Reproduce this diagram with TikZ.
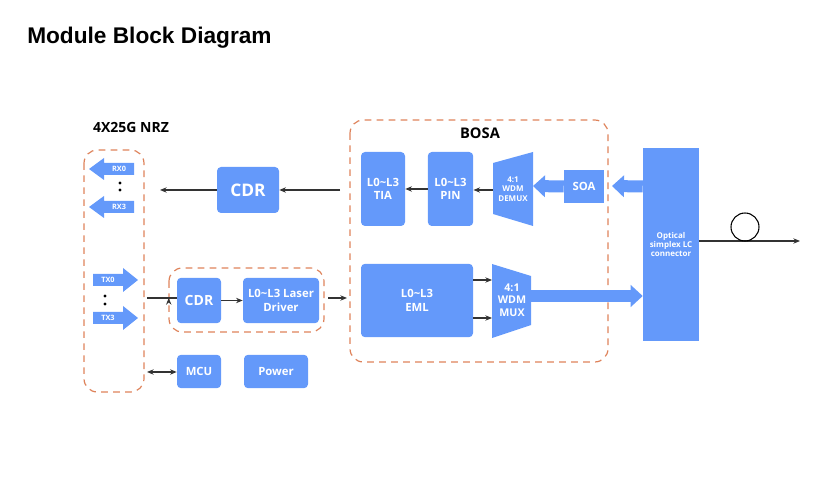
\documentclass[tikz,border=0pt]{standalone}
\usepackage{fontspec}
\setmainfont{Open Sans}
\newfontfamily\arialf{Liberation Sans}
\usetikzlibrary{arrows.meta}
\definecolor{blk}{RGB}{100,153,250}
\definecolor{dsh}{RGB}{222,130,90}
\begin{document}
\begin{tikzpicture}[x=0.75pt,y=-0.75pt,
  box/.style={fill=blk,rounded corners=3pt,text=white,font=\bfseries,align=center,inner sep=0pt},
  dbox/.style={draw=dsh,dashed,line width=0.9pt,dash pattern=on 5pt off 4pt,rounded corners=10pt},
  ar/.style={-{Stealth[length=5pt,width=4pt]},line width=0.8pt,black!80},
  fat/.style={blk,line width=9pt,-{Triangle[length=9pt,width=16pt]}},
  txt/.style={font=\bfseries,inner sep=0pt}]
\useasboundingbox (0,0) rectangle (826,481);
\node[anchor=west,font=\arialf\bfseries\fontsize{17}{20}\selectfont,inner sep=0pt] (title) at (27,38) {Module Block Diagram};
\node[txt,font=\bfseries\fontsize{10.5}{12}\selectfont] (nrz) at (131,128) {4X25G NRZ};
\draw[dbox] (84,150) rectangle (144,392);
\draw[dbox] (169,268) rectangle (324,332);
\draw[dbox] (350,120) rectangle (608,362);
\node[txt,font=\bfseries\fontsize{11}{13}\selectfont] (bosa) at (480,133) {BOSA};
% RX/TX arrows
\foreach \y/\t in {169/RX0,207/RX3}{
  \fill[blk] (89,\y) -- (104,\y-11) -- (104,\y-6) -- (134,\y-6) -- (134,\y+6) -- (104,\y+6) -- (104,\y+11) -- cycle;
  \node[text=white,font=\bfseries\fontsize{5.5}{6}\selectfont] (n\t) at (119,\y) {\t};}
\foreach \y/\t in {280/TX0,318/TX3}{
  \fill[blk] (138,\y) -- (123,\y-12) -- (123,\y-6) -- (93,\y-6) -- (93,\y+6) -- (123,\y+6) -- (123,\y+12) -- cycle;
  \node[text=white,font=\bfseries\fontsize{5.5}{6}\selectfont] (n\t) at (108,\y) {\t};}
\foreach \p in {(120,183),(120,190),(105,296),(105,304)} \fill \p circle (1.2pt);
% boxes
\node[box,minimum width=46.5pt,minimum height=34.5pt,font=\bfseries\fontsize{13}{15}\selectfont] (cdr1) at (248,190) {CDR};
\node[box,minimum width=33pt,minimum height=34pt,font=\bfseries\fontsize{10.5}{12}\selectfont] (cdr2) at (199,300.5) {CDR};
\node[box,minimum width=57pt,minimum height=34pt,font=\bfseries\fontsize{8.5}{10}\selectfont] (ld) at (281,300.5) {L0\textasciitilde L3 Laser\\Driver};
\node[box,minimum width=33pt,minimum height=25pt,font=\bfseries\fontsize{8.5}{10}\selectfont] (mcu) at (199,371.5) {MCU};
\node[box,minimum width=48pt,minimum height=25pt,font=\bfseries\fontsize{8.5}{10}\selectfont] (pwr) at (276,371.5) {Power};
\node[box,minimum width=33pt,minimum height=55.5pt,font=\bfseries\fontsize{8.5}{10}\selectfont] (tia) at (383,189) {L0\textasciitilde L3\\TIA};
\node[box,minimum width=34pt,minimum height=55.5pt,font=\bfseries\fontsize{8.5}{10}\selectfont] (pin) at (450.5,189) {L0\textasciitilde L3\\PIN};
\node[box,minimum width=84pt,minimum height=55pt,font=\bfseries\fontsize{8.5}{10}\selectfont] (eml) at (417,300.5) {L0\textasciitilde L3\\EML};
\node[box,rounded corners=0pt,minimum width=30pt,minimum height=25pt,font=\bfseries\fontsize{8.5}{10}\selectfont] (soa) at (584,186.5) {SOA};
\node[box,rounded corners=0pt,minimum width=42pt,minimum height=145pt,font=\bfseries\fontsize{6}{7}\selectfont] (conn) at (671,244.5) {Optical\\simplex LC\\connector};
% trapezoids
\fill[blk] (493,163) -- (533,152) -- (533,226) -- (493,214) -- cycle;
\node[text=white,font=\bfseries\fontsize{6}{7}\selectfont,align=center,inner sep=0pt] (demux) at (513,189) {4:1\\WDM\\DEMUX};
\fill[blk] (492,264) -- (531,276) -- (531,325) -- (492,338) -- cycle;
\node[text=white,font=\bfseries\fontsize{8}{9.5}\selectfont,align=center,inner sep=0pt] (mux) at (512,300) {4:1\\WDM\\MUX};
\coordinate (demuxL) at (493,190);
\coordinate (demuxR) at (533,186);
\coordinate (muxR) at (531,296);
\coordinate (muxL1) at (492,280);
\coordinate (muxL2) at (492,318);
% connectors
\coordinate (bosaL) at (340,190);
\coordinate (rxend) at (160,190);
\draw[ar] (bosaL) -- (cdr1.east);
\draw[ar] (cdr1.west) -- (rxend);
\coordinate (a1) at (147,298); \coordinate (a2) at (328,298); \coordinate (a3) at (347,298);
\draw[ar] (a1) -- (a1-|cdr2.west) ++(-8,0);
\draw[ar] (cdr2.east|-ld) -- (ld.west);
\draw[ar] (a2) -- (a3);
\coordinate (m1) at (147,372);
\draw[{Stealth[length=5pt,width=4pt]}-{Stealth[length=5pt,width=4pt]},line width=0.8pt,black!80] (m1) -- (mcu.west|-m1);
\draw[ar] (pin.west) -- (tia.east);
\draw[ar] (demuxL) -- (pin.east|-demuxL);
\draw[ar] (eml.east|-muxL1) -- (muxL1);
\draw[ar] (eml.east|-muxL2) -- (muxL2);
\draw[fat] (soa.west) -- (demuxR);
\draw[fat] (conn.west|-soa) -- (612,186);
\draw[fat] (muxR) -- (conn.west|-muxR);
\coordinate (fe) at (800,241);
\draw[ar] (conn.east|-fe) -- (fe);
\draw[line width=0.8pt] (745,227) circle (14);
\end{tikzpicture}
\end{document}
